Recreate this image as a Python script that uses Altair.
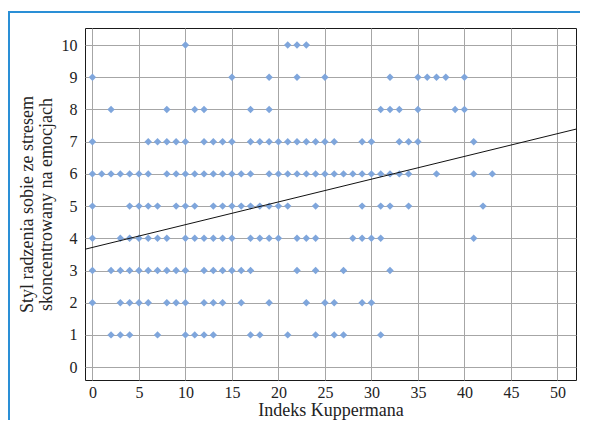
import altair as alt
import pandas as pd

# x values (Indeks Kuppermana) observed on each y level
row_10 = [10, 21, 22, 23]
row_9 = [0, 15, 19, 22, 25, 32, 35, 36, 37, 38, 40]
row_8 = [2, 8, 11, 12, 17, 19, 31, 32, 33, 35, 39, 40]
row_7 = [0, 6, 7, 8, 9, 10, 12, 13, 14, 15, 17, 18, 19, 20, 21, 22, 23, 24, 25, 26, 29, 30, 33, 34, 35, 41]
row_6 = [0, 1, 2, 3, 4, 5, 6, 8, 9, 10, 11, 12, 13, 14, 15, 16, 17, 19, 20, 21, 22, 23, 24, 25, 26, 27,
         28, 29, 30, 31, 32, 33, 34, 37, 41, 43]
row_5 = [0, 4, 5, 6, 7, 9, 10, 11, 13, 14, 15, 16, 17, 18, 19, 20, 21, 24, 29, 31, 32, 34, 42]
row_4 = [0, 3, 4, 5, 6, 7, 8, 10, 11, 12, 13, 14, 15, 17, 18, 19, 20, 22, 23, 24, 28, 29, 30, 31, 41]
row_3 = [0, 2, 3, 4, 5, 6, 7, 8, 9, 10, 12, 13, 14, 15, 16, 17, 22, 24, 27, 32]
row_2 = [0, 3, 4, 5, 6, 8, 9, 10, 12, 13, 14, 16, 19, 23, 25, 26, 29, 30]
row_1 = [2, 3, 4, 7, 10, 11, 12, 13, 17, 18, 21, 24, 26, 27, 31]

rows = {10: row_10, 9: row_9, 8: row_8, 7: row_7, 6: row_6,
        5: row_5, 4: row_4, 3: row_3, 2: row_2, 1: row_1}

# regression line end points
reg_x = [-0.8, 52]
reg_y = [3.66, 7.39]

x_ticks = [0, 5, 10, 15, 20, 25, 30, 35, 40, 45, 50]
y_ticks = [0, 1, 2, 3, 4, 5, 6, 7, 8, 9, 10]

pts = pd.DataFrame([{"x": xv, "y": yv} for yv, xs in rows.items() for xv in xs])
reg = pd.DataFrame({"x": reg_x, "y": reg_y})

FONT = "Liberation Serif"
xscale = alt.Scale(domain=[-0.8, 52], nice=False, zero=False)
yscale = alt.Scale(domain=[-0.4, 10.53], nice=False, zero=False)

xaxis = alt.Axis(values=x_ticks, title="Indeks Kuppermana", grid=True, tickSize=0,
                 labelPadding=4, titlePadding=1, domain=False, labelOverlap=False,
                 labelFont=FONT, labelFontSize=16, titleFont=FONT, titleFontSize=18)
yaxis = alt.Axis(values=y_ticks, title=["Styl radzenia sobie ze stresem", "skoncentrowany na emocjach"],
                 grid=True, tickSize=0, labelPadding=8, titlePadding=6, domain=False, labelOverlap=False,
                 labelFont=FONT, labelFontSize=16, titleFont=FONT, titleFontSize=18)

points = alt.Chart(pts).mark_point(shape="diamond", filled=True, size=55, color="#7fa6dc", opacity=1).encode(
    x=alt.X("x:Q", scale=xscale, axis=xaxis),
    y=alt.Y("y:Q", scale=yscale, axis=yaxis),
)

line = alt.Chart(reg).mark_line(color="#111111", strokeWidth=1, clip=True).encode(
    x=alt.X("x:Q", scale=xscale, axis=xaxis),
    y=alt.Y("y:Q", scale=yscale, axis=yaxis),
)

border_left = alt.Chart(reg).mark_rule(color="#2a8fd6", strokeWidth=2).encode(
    x=alt.value(-76), y=alt.value(-16), y2=alt.value(420)
)
border_top = alt.Chart(reg).mark_rule(color="#2a8fd6", strokeWidth=2).encode(
    x=alt.value(-77), x2=alt.value(600), y=alt.value(-16)
)

chart = alt.layer(points, line, border_left, border_top).properties(
    width=491, height=352,
    autosize="none",
    padding={"left": 77, "top": 20, "right": 4, "bottom": 40},
).configure_view(
    stroke="#1a1a1a", strokeWidth=1
).configure_axis(
    labelFont=FONT, titleFont=FONT, labelFontSize=16, titleFontSize=18,
    labelColor="#222222", titleColor="#222222", titleFontWeight="normal",
    gridColor="#a6a6a6", gridWidth=1, gridOpacity=1, titleLineHeight=19,
    labelOverlap=False,
)

chart.save("out.html", embed_options={"renderer": "svg", "actions": False})
